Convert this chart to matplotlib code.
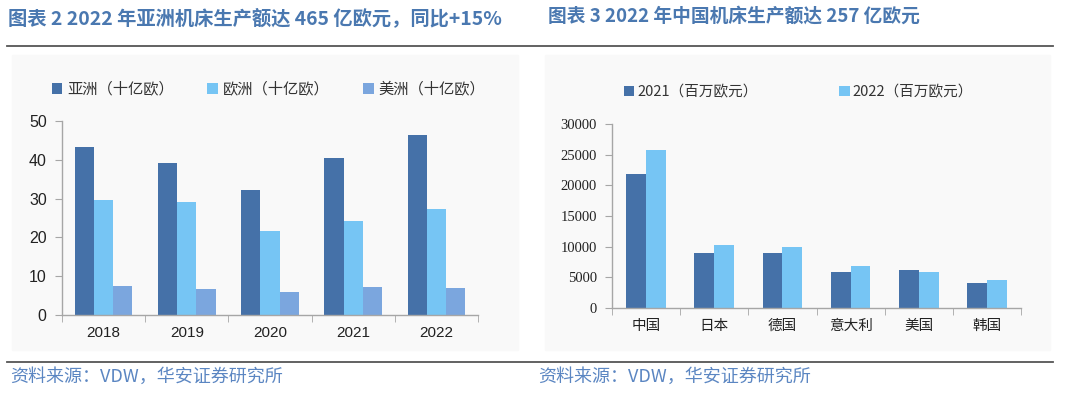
import numpy as np
import matplotlib
matplotlib.use('Agg')
import matplotlib.pyplot as plt
from matplotlib.patches import Rectangle
from matplotlib.lines import Line2D

plt.rcParams['font.family'] = ['Noto Sans CJK SC', 'DejaVu Sans']

# 左图数据：十亿欧
years = ['2018', '2019', '2020', '2021', '2022']
asia = [43.3, 39.3, 32.2, 40.4, 46.5]
europe = [29.7, 29.0, 21.6, 24.2, 27.2]
america = [7.5, 6.8, 5.9, 7.1, 6.9]
left_names = ['亚洲（十亿欧）', '欧洲（十亿欧）', '美洲（十亿欧）']

# 右图数据：百万欧元
countries = ['中国', '日本', '德国', '意大利', '美国', '韩国']
v2021 = [21850, 8950, 8950, 5800, 6150, 4050]
v2022 = [25800, 10200, 10000, 6850, 5900, 4500]
right_names = ['2021（百万欧元）', '2022（百万欧元）']

c_dark = '#4571a8'
c_light = '#76c5f4'
c_mid = '#7ba6de'
c_title = '#4a78b0'
c_src = '#5b86c2'

W, H = 1080, 396
fig = plt.figure(figsize=(W / 100, H / 100), dpi=100)


def box(x0, y0, x1, y1):
    # 像素坐标 -> figure 坐标
    return [x0 / W, 1 - y1 / H, (x1 - x0) / W, (y1 - y0) / H]


# 面板底色
for x0, x1 in [(12, 518), (545, 1050)]:
    fig.patches.append(Rectangle((x0 / W, 1 - 350 / H), (x1 - x0) / W, 295 / H,
                                 transform=fig.transFigure, color='#f9f9f9', zorder=-5))

# 标题与分隔线
fig.text(8 / W, 1 - 18 / H, '图表 2 2022 年亚洲机床生产额达 465 亿欧元，同比+15%',
         fontsize=13.9, fontweight='bold', color=c_title, va='center')
fig.text(548 / W, 1 - 16 / H, '图表 3 2022 年中国机床生产额达 257 亿欧元',
         fontsize=13.5, fontweight='bold', color=c_title, va='center')
for y in [46, 362]:
    fig.add_artist(Line2D([7 / W, 1053 / W], [1 - y / H, 1 - y / H], color='#555555', lw=1.3))
fig.text(10 / W, 1 - 377 / H, '资料来源：VDW，华安证券研究所', fontsize=13, color=c_src, va='center')
fig.text(538 / W, 1 - 377 / H, '资料来源：VDW，华安证券研究所', fontsize=13, color=c_src, va='center')


def style_axes(ax):
    ax.set_facecolor('none')
    for s in ['top', 'right']:
        ax.spines[s].set_visible(False)
    for s in ['left', 'bottom']:
        ax.spines[s].set_color('#a6a6a6')
        ax.spines[s].set_linewidth(1.0)
    ax.tick_params(axis='y', length=5, color='#a6a6a6', colors='#222222', pad=6)
    ax.tick_params(axis='x', which='major', length=0, colors='#222222', pad=8)
    ax.tick_params(axis='x', which='minor', length=5, color='#a6a6a6')


# 左图
ax1 = fig.add_axes(box(62, 121, 478, 315))
x = np.arange(len(years))
w = 0.23
ax1.bar(x - w, asia, w, color=c_dark, label=left_names[0])
ax1.bar(x, europe, w, color=c_light, label=left_names[1])
ax1.bar(x + w, america, w, color=c_mid, label=left_names[2])
ax1.set_xlim(-0.5, len(years) - 0.5)
ax1.set_ylim(0, 50)
ax1.set_yticks([0, 10, 20, 30, 40, 50])
ax1.set_xticks(x)
ax1.set_xticklabels(years, fontsize=11, family=['Liberation Sans'])
ax1.set_xticks(np.arange(-0.5, len(years)), minor=True)
for t in ax1.get_yticklabels():
    t.set_fontfamily(['Liberation Sans'])
    t.set_fontsize(11.5)
style_axes(ax1)
ax1.legend(loc='center left', bbox_to_anchor=(38 / W, 1 - 89 / H), bbox_transform=fig.transFigure,
           ncol=3, frameon=False, fontsize=11, handlelength=0.7, handleheight=0.7,
           handletextpad=0.3, columnspacing=2.2, labelcolor='#333333')

# 右图
ax2 = fig.add_axes(box(612, 124, 1021, 308))
x2 = np.arange(len(countries))
w2 = 0.29
ax2.bar(x2 - w2 / 2, v2021, w2, color=c_dark, label=right_names[0])
ax2.bar(x2 + w2 / 2, v2022, w2, color=c_light, label=right_names[1])
ax2.set_xlim(-0.5, len(countries) - 0.5)
ax2.set_ylim(0, 30000)
ax2.set_yticks(np.arange(0, 30001, 5000))
ax2.set_xticks(x2)
ax2.set_xticklabels(countries, fontsize=10.5)
ax2.set_xticks(np.arange(-0.5, len(countries)), minor=True)
for t in ax2.get_yticklabels():
    t.set_fontfamily(['Liberation Serif'])
    t.set_fontsize(10.5)
style_axes(ax2)
leg2 = ax2.legend(loc='center left', bbox_to_anchor=(611 / W, 1 - 92 / H), bbox_transform=fig.transFigure,
                  ncol=2, frameon=False, fontsize=10.5, handlelength=0.7, handleheight=0.7,
                  handletextpad=0.2, columnspacing=5.6, labelcolor='#333333')

fig.savefig('out.png', dpi=100)
